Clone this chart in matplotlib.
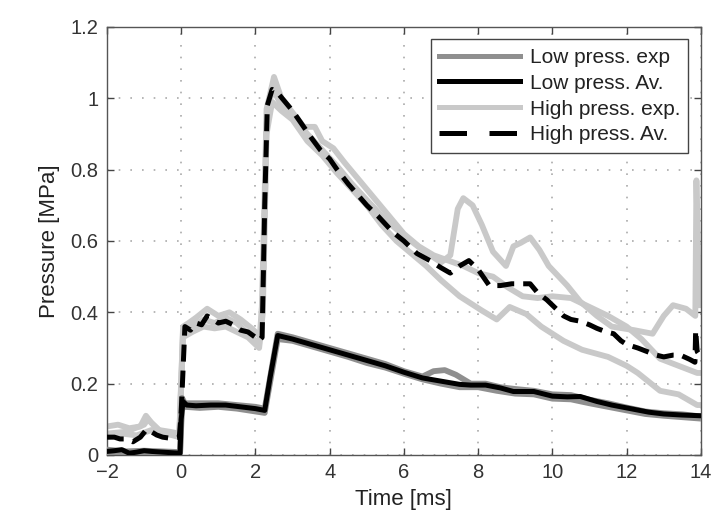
import matplotlib
matplotlib.use("Agg")
import matplotlib.pyplot as plt
from matplotlib.ticker import FuncFormatter

# ---------------- data ----------------
# Low pressure, experiments
t_lexp1 = [-2.0, -1.5, -1.0, -0.5, -0.03, 0.02, 0.1, 0.5, 1.0, 1.5, 2.0, 2.25, 2.6, 3.0, 3.5, 4.0,
           4.5, 5.0, 5.5, 6.0, 6.5, 6.8, 7.1, 7.4, 7.8, 8.2, 8.6, 9.0, 9.5, 10.0, 10.5, 11.0, 11.5,
           12.0, 12.5, 13.0, 13.5, 14.0]
p_lexp1 = [0.015, 0.01, 0.012, 0.01, 0.008, 0.16, 0.145, 0.145, 0.145, 0.14, 0.135, 0.13, 0.34,
           0.33, 0.315, 0.30, 0.285, 0.27, 0.255, 0.235, 0.22, 0.235, 0.238, 0.225, 0.20, 0.20,
           0.19, 0.185, 0.18, 0.17, 0.168, 0.155, 0.145, 0.133, 0.122, 0.117, 0.114, 0.108]
t_lexp2 = [-2.0, -1.5, -1.0, -0.5, -0.03, 0.02, 0.1, 0.5, 1.0, 1.5, 2.0, 2.25, 2.6, 3.0, 3.5, 4.0,
           4.5, 5.0, 5.5, 6.0, 6.5, 7.0, 7.5, 8.0, 8.5, 9.0, 9.5, 10.0, 10.5, 11.0, 11.5, 12.0,
           12.5, 13.0, 13.5, 14.0]
p_lexp2 = [0.005, 0.008, 0.005, 0.004, 0.004, 0.13, 0.135, 0.132, 0.135, 0.13, 0.122, 0.118,
           0.325, 0.32, 0.305, 0.29, 0.275, 0.258, 0.245, 0.228, 0.212, 0.20, 0.19, 0.19, 0.18,
           0.172, 0.17, 0.158, 0.156, 0.145, 0.135, 0.125, 0.115, 0.11, 0.106, 0.102]

# Low pressure, average
t_lav = [-2.0, -1.8, -1.6, -1.4, -1.2, -1.0, -0.8, -0.5, -0.2, -0.03, 0.0, 0.05, 0.15, 0.4, 0.8,
         1.2, 1.6, 2.0, 2.25, 2.4, 2.6, 2.8, 3.0, 3.5, 4.0, 4.5, 5.0, 5.5, 6.0, 6.5, 7.0, 7.5, 7.8,
         8.2, 8.6, 8.95, 9.5, 10.0, 10.4, 10.75, 11.2, 11.6, 12.1, 12.6, 13.0, 13.5, 14.0]
p_lav = [0.01, 0.012, 0.015, 0.005, 0.008, 0.012, 0.01, 0.008, 0.006, 0.005, 0.10, 0.15, 0.14,
         0.138, 0.14, 0.14, 0.135, 0.13, 0.125, 0.22, 0.335, 0.33, 0.325, 0.31, 0.295, 0.28,
         0.265, 0.25, 0.232, 0.216, 0.207, 0.198, 0.196, 0.196, 0.188, 0.178, 0.178, 0.165,
         0.163, 0.164, 0.15, 0.14, 0.13, 0.12, 0.115, 0.112, 0.11]

# High pressure, experiments
t_hexp1 = [-2.0, -1.7, -1.4, -1.1, -0.95, -0.8, -0.6, -0.3, -0.05, 0.05, 0.2, 0.4, 0.7, 1.0, 1.3,
           1.6, 1.9, 2.15, 2.22, 2.3, 2.5, 2.7, 3.0, 3.3, 3.6, 3.8, 4.1, 4.4, 4.8, 5.2, 5.6, 6.0,
           6.4, 6.8, 7.2, 7.6, 8.0, 8.4, 8.8, 9.2, 9.6, 10.0, 10.5, 11.0, 11.5, 12.0, 12.4, 12.9,
           13.4, 13.9, 14.0]
p_hexp1 = [0.08, 0.085, 0.075, 0.08, 0.11, 0.09, 0.07, 0.065, 0.06, 0.36, 0.37, 0.385, 0.41,
           0.39, 0.40, 0.38, 0.355, 0.33, 0.60, 0.97, 1.06, 1.00, 0.96, 0.92, 0.92, 0.88, 0.86,
           0.82, 0.77, 0.72, 0.67, 0.62, 0.585, 0.56, 0.545, 0.53, 0.51, 0.50, 0.47, 0.445, 0.44,
           0.445, 0.44, 0.415, 0.39, 0.36, 0.325, 0.27, 0.25, 0.23, 0.23]
t_hexp2 = [-2.0, -1.5, -1.0, -0.9, -0.5, -0.05, 0.05, 0.3, 0.6, 0.9, 1.2, 1.5, 1.8, 2.1, 2.2,
           2.3, 2.45, 2.7, 3.0, 3.4, 3.8, 4.2, 4.6, 5.0, 5.5, 6.0, 6.5, 7.0, 7.25, 7.45, 7.6, 7.85,
           8.1, 8.4, 8.75, 8.95, 9.15, 9.4, 9.65, 9.9, 10.4, 10.75, 11.2, 11.6, 12.2, 12.7, 13.0,
           13.25, 13.6, 13.85, 13.88, 13.95]
p_hexp2 = [0.06, 0.065, 0.085, 0.10, 0.06, 0.055, 0.35, 0.36, 0.38, 0.37, 0.385, 0.37, 0.34,
           0.31, 0.45, 0.93, 1.03, 0.98, 0.95, 0.90, 0.855, 0.81, 0.76, 0.715, 0.66, 0.615, 0.575,
           0.54, 0.56, 0.69, 0.72, 0.70, 0.645, 0.57, 0.53, 0.585, 0.595, 0.61, 0.575, 0.53,
           0.475, 0.43, 0.39, 0.36, 0.35, 0.34, 0.39, 0.42, 0.41, 0.39, 0.77, 0.42]
t_hexp3 = [-2.0, -1.6, -1.2, -0.8, -0.4, -0.05, 0.05, 0.3, 0.6, 0.9, 1.2, 1.5, 1.8, 2.1, 2.2,
           2.3, 2.45, 2.7, 3.0, 3.4, 3.8, 4.2, 4.6, 5.0, 5.4, 5.8, 6.2, 6.6, 7.0, 7.5, 8.1, 8.5,
           8.85, 9.3, 9.7, 10.3, 10.8, 11.5, 12.0, 12.3, 12.9, 13.4, 13.9, 14.0]
p_hexp3 = [0.05, 0.06, 0.055, 0.07, 0.06, 0.05, 0.33, 0.345, 0.36, 0.355, 0.36, 0.345, 0.33,
           0.30, 0.40, 0.90, 0.99, 0.965, 0.94, 0.88, 0.84, 0.79, 0.745, 0.70, 0.645, 0.60,
           0.565, 0.53, 0.49, 0.445, 0.405, 0.38, 0.415, 0.395, 0.36, 0.32, 0.295, 0.275, 0.25,
           0.23, 0.18, 0.17, 0.14, 0.14]

# High pressure, average
t_hav = [-2.0, -1.8, -1.65, -1.5, -1.3, -1.1, -0.93, -0.8, -0.66, -0.5, -0.3, -0.05, 0.0, 0.1,
         0.25, 0.4, 0.55, 0.7, 0.85, 1.0, 1.2, 1.4, 1.6, 1.8, 2.0, 2.1, 2.18, 2.25, 2.32, 2.45,
         2.6, 2.8, 3.0, 3.3, 3.5, 3.75, 4.0, 4.2, 4.5, 4.75, 5.0, 5.3, 5.7, 6.0, 6.35, 6.7, 7.0,
         7.25, 7.5, 7.75, 8.0, 8.3, 8.6, 8.9, 9.2, 9.4, 9.6, 9.85, 10.1, 10.3, 10.5, 10.75, 11.0,
         11.2, 11.45, 11.65, 11.85, 12.0, 12.3, 12.55, 12.8, 13.0, 13.25, 13.45, 13.7, 13.84,
         13.86, 13.9, 14.0]
p_hav = [0.05, 0.05, 0.045, 0.045, 0.037, 0.05, 0.072, 0.065, 0.056, 0.05, 0.047, 0.05, 0.12,
         0.36, 0.35, 0.37, 0.365, 0.39, 0.38, 0.37, 0.375, 0.365, 0.35, 0.345, 0.33, 0.32, 0.33,
         0.70, 0.98, 1.025, 1.015, 0.99, 0.965, 0.92, 0.89, 0.855, 0.83, 0.80, 0.76, 0.73, 0.70,
         0.67, 0.625, 0.60, 0.565, 0.545, 0.525, 0.51, 0.53, 0.545, 0.52, 0.475, 0.475, 0.48,
         0.48, 0.48, 0.455, 0.435, 0.41, 0.39, 0.38, 0.375, 0.365, 0.355, 0.345, 0.34, 0.32,
         0.31, 0.30, 0.29, 0.28, 0.275, 0.28, 0.28, 0.268, 0.26, 0.35, 0.29, 0.275]

x_ticks = [-2, 0, 2, 4, 6, 8, 10, 12, 14]
y_ticks = [0, 0.2, 0.4, 0.6, 0.8, 1.0, 1.2]

# ---------------- styling ----------------
plt.rcParams['font.family'] = ['Liberation Sans', 'DejaVu Sans']

C_LOW = '#8f8f8f'
C_HIGH = '#c9c9c9'

fig = plt.figure(figsize=(7.13, 5.24), dpi=100)
ax = fig.add_axes([0.150, 0.1317, 0.833, 0.8168])

lw = 3.6
lwg = 4.2
ax.plot(t_hexp1, p_hexp1, color=C_HIGH, lw=lwg, solid_joinstyle='round', zorder=2)
ax.plot(t_hexp2, p_hexp2, color=C_HIGH, lw=lwg, solid_joinstyle='round', zorder=2)
ax.plot(t_hexp3, p_hexp3, color=C_HIGH, lw=lwg, solid_joinstyle='round', zorder=2)
ax.plot(t_lexp1, p_lexp1, color=C_LOW, lw=lwg, solid_joinstyle='round', zorder=3)
ax.plot(t_lexp2, p_lexp2, color=C_LOW, lw=lwg, solid_joinstyle='round', zorder=3)
ax.plot(t_lav, p_lav, color='black', lw=lw, solid_joinstyle='round', zorder=4)
ax.plot(t_hav, p_hav, color='black', lw=lw, dashes=(3.4, 1.8), zorder=4)

# legend proxies
h1, = ax.plot([], [], color=C_LOW, lw=lw)
h2, = ax.plot([], [], color='black', lw=lw)
h3, = ax.plot([], [], color=C_HIGH, lw=lw)
h4, = ax.plot([], [], color='black', lw=lw, dashes=(5.5, 4.5))
leg = ax.legend([h1, h2, h3, h4],
                ['Low press. exp', 'Low press. Av.', 'High press. exp.', 'High press. Av.'],
                loc='upper right', fontsize=15, handlelength=3.9, handletextpad=0.45,
                labelspacing=0.33, borderpad=0.4, borderaxespad=0.6, fancybox=False,
                framealpha=1, edgecolor='#444444')
leg.get_frame().set_linewidth(1.0)
for t in leg.get_texts():
    t.set_color('#222222')

ax.set_xlim(-2, 14)
ax.set_ylim(0, 1.2)
ax.set_xticks(x_ticks)
ax.set_yticks(y_ticks)
fmt = FuncFormatter(lambda v, p: ('%g' % v).replace('-', '\u2212'))
ax.xaxis.set_major_formatter(fmt)
ax.yaxis.set_major_formatter(FuncFormatter(lambda v, p: '%g' % round(v, 2)))
ax.tick_params(direction='in', length=5, width=1, colors='#444444', labelsize=14.5,
               labelcolor='#333333', top=True, right=True, pad=6)
ax.grid(True, color='#aaaaaa', linestyle=(0, (1, 6)), linewidth=1.2)
for s in ax.spines.values():
    s.set_color('#555555')
    s.set_linewidth(1.0)

ax.set_xlabel('Time [ms]', fontsize=16, color='#222222', labelpad=5)
ax.set_ylabel('Pressure [MPa]', fontsize=16, color='#222222', labelpad=8)

fig.savefig('out.png', dpi=100)
